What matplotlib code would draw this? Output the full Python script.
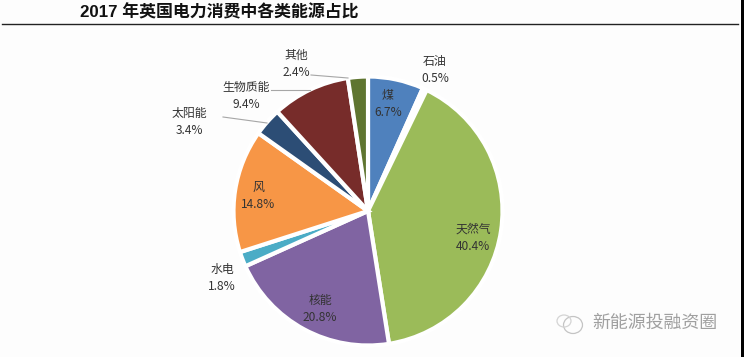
# -*- coding: utf-8 -*-
import matplotlib
matplotlib.use("Agg")
import matplotlib.pyplot as plt
from matplotlib.lines import Line2D
from matplotlib.patches import Ellipse, Rectangle

plt.rcParams['font.family'] = ['Noto Sans CJK SC', 'DejaVu Sans']

# Datos
categorias = ["煤", "石油", "天然气", "核能", "水电", "风", "太阳能", "生物质能", "其他"]
valores = [6.7, 0.5, 40.4, 20.8, 1.8, 14.8, 3.4, 9.4, 2.4]
colores = ["#4f81bd", "#c0504d", "#9bbb59", "#8064a2", "#4bacc6", "#f79646", "#2c4d75", "#772c2a", "#5f7530"]
titulo = "2017 年英国电力消费中各类能源占比"
marca = "新能源投融资圈"

W, H = 744, 357
cx, cy, r = 368, 211, 134.5

# Posicion del centro de cada etiqueta, en pixeles
pos_etiquetas = [(388, 104), (435, 70), (473, 238), (320, 309), (222, 278),
                 (258, 196), (189, 122), (246, 96), (296, 64)]
# Lineas guia
guias = [[(311, 75), (348, 78)], [(271, 90), (310, 90)], [(223, 117), (267, 123)]]

fig = plt.figure(figsize=(W / 100, H / 100), dpi=100, facecolor="#fdfdfd")

ax = fig.add_axes([(cx - r) / W, 1 - (cy + r) / H, 2 * r / W, 2 * r / H])
ax.pie(valores, colors=colores, startangle=90, counterclock=False, radius=1,
       wedgeprops=dict(edgecolor="white", linewidth=3))
ax.set_xlim(-1, 1)
ax.set_ylim(-1, 1)

# Capa en pixeles para textos, lineas y marca de agua, encima de la tarta
capa = fig.add_axes([0, 0, 1, 1])
capa.set_xlim(0, W)
capa.set_ylim(H, 0)
capa.axis("off")
capa.set_zorder(3)

for cat, val, (x, y) in zip(categorias, valores, pos_etiquetas):
    capa.text(x, y, f"{cat}\n{val}%", ha="center", va="center", fontsize=8.6,
              color="#333333", linespacing=1.4)

for g in guias:
    capa.add_line(Line2D([p[0] for p in g], [p[1] for p in g], color="#a6a6a6", lw=0.8))

# Titulo y regla superior
capa.text(80, 12, titulo, ha="left", va="center", fontsize=12.2, fontweight="bold", color="#111111",
          family=['Liberation Sans', 'Noto Sans CJK SC'])
capa.add_line(Line2D([2, 738], [24, 24], color="#222222", lw=1))

# Marca de agua
capa.text(655, 323, marca, ha="center", va="center", fontsize=12.9, color="#a0a0a0")
capa.add_patch(Ellipse((573, 325), 19, 17, fill=False, edgecolor="#c4c4c4", lw=0.9))
capa.add_patch(Ellipse((564, 321), 14, 12, fill=False, edgecolor="#d4d4d4", lw=0.9))

# Franja negra del borde derecho
capa.add_patch(Rectangle((741, 0), 3, H, facecolor="black", edgecolor="none"))

fig.savefig("out.png", dpi=100, facecolor=fig.get_facecolor())
